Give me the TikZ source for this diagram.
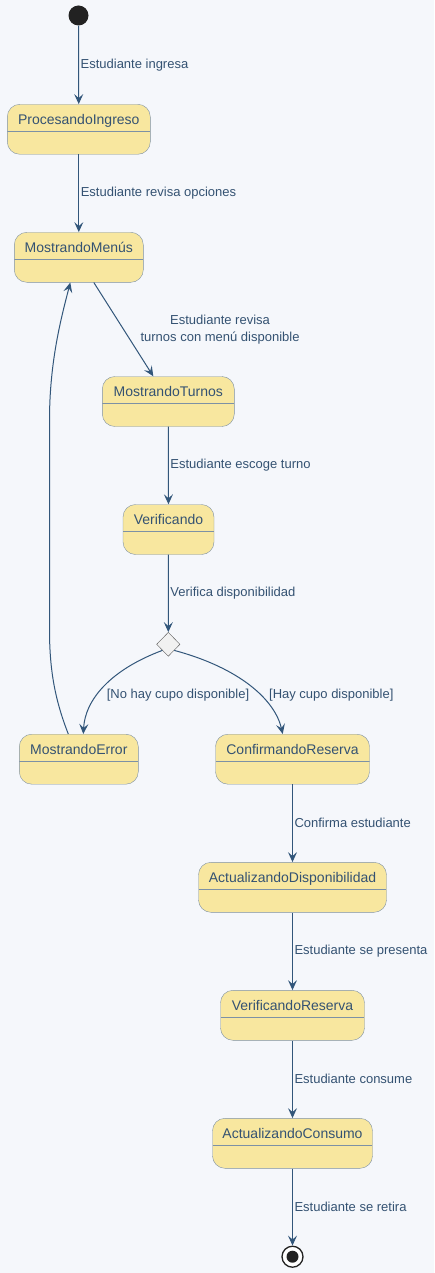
\documentclass[tikz,border=0pt]{standalone}
\usepackage{fontspec}
\setmainfont{Liberation Sans}
\usepackage{tikz}
\usetikzlibrary{positioning,arrows.meta,shapes.geometric}

\definecolor{fondo}{RGB}{245,247,251}
\definecolor{relleno}{RGB}{248,231,159}
\definecolor{borde}{RGB}{125,145,165}
\definecolor{flecha}{RGB}{50,86,122}
\definecolor{texto}{RGB}{52,82,114}
\definecolor{negro}{RGB}{34,34,34}
\definecolor{rombo}{RGB}{241,241,241}
\definecolor{borderombo}{RGB}{90,90,90}

\begin{document}
\begin{tikzpicture}[x=1pt, y=-1pt,
	estado/.style={draw=borde, fill=relleno, rounded corners=12.5pt, inner xsep=0pt, inner ysep=0pt,
		text height=20pt, text depth=30pt, text=texto, font=\fontsize{14}{16}\selectfont,
		path picture={\draw[borde] ([yshift=-27pt]path picture bounding box.north west) -- ([yshift=-27pt]path picture bounding box.north east);}},
	etiqueta/.style={text=texto, inner sep=1.5pt, font=\fontsize{13}{16.6}\selectfont},
	trans/.style={draw=flecha, line width=1pt, -{Stealth[length=10pt, width=9pt, inset=4pt]}}]
	\useasboundingbox (0,0) rectangle (434,1273);
	\fill[fondo] (0,0) rectangle (434,1273);

	\node[circle, fill=negro, minimum size=20pt, inner sep=0pt] (inicio) at (78.5,15.5) {};
	\node[estado, minimum width=143pt] (ingreso) at (78.8,129.3) {ProcesandoIngreso};
	\node[estado, minimum width=129pt] (menus) at (78.8,257.3) {MostrandoMenús};
	\node[estado, minimum width=132pt] (turnos) at (168.3,401.5) {MostrandoTurnos};
	\node[estado, minimum width=91pt] (verificando) at (168.5,529.5) {Verificando};
	\node[diamond, draw=borderombo, fill=rombo, minimum width=23.4pt, minimum height=24pt, inner sep=0pt] (decision) at (168.3,644.3) {};
	\node[estado, minimum width=119pt] (error) at (78.8,759.2) {MostrandoError};
	\node[estado, minimum width=154pt] (confirmando) at (292.5,759.2) {ConfirmandoReserva};
	\node[estado, minimum width=188pt] (disponibilidad) at (292.5,887.3) {ActualizandoDisponibilidad};
	\node[estado, minimum width=144pt] (reserva) at (292.5,1015.3) {VerificandoReserva};
	\node[estado, minimum width=160pt] (consumo) at (292.5,1143.3) {ActualizandoConsumo};
	\node[circle, draw=negro, line width=1.3pt, fill=white, minimum size=21pt, inner sep=0pt,
		path picture={\fill[negro] (path picture bounding box.center) circle (6pt);}] (fin) at (292.5,1256.7) {};

	\draw[trans] (inicio) -- node[etiqueta, right] {Estudiante ingresa} (ingreso);
	\draw[trans] (ingreso) -- node[etiqueta, right] {Estudiante revisa opciones} (menus);
	\draw[trans] ([xshift=15pt]menus.south) -- node[etiqueta, align=center, right=15pt] {Estudiante revisa\\turnos con menú disponible} ([xshift=-15pt]turnos.north);
	\draw[trans] (turnos) -- node[etiqueta, right] {Estudiante escoge turno} (verificando);
	\draw[trans] (verificando) -- node[etiqueta, right] {Verifica disponibilidad} (decision);
	\draw[trans] (decision.south west) .. controls (110,670) and (85,700) .. node[etiqueta, pos=0.6, anchor=west, xshift=8pt] {[No hay cupo disponible]} ([xshift=4.5pt]error.north);
	\draw[trans] (decision.south east) .. controls (240,668) and (275,700) .. node[etiqueta, pos=0.6, anchor=west, xshift=7pt] {[Hay cupo disponible]} ([xshift=-9.8pt]confirmando.north);
	\draw[trans] ([xshift=-10.5pt]error.north) .. controls (55,700) and (49.5,670) .. (49.5,630)
		-- (49.5,420) .. controls (49.5,360) and (62,315) .. ([xshift=-8.5pt]menus.south);
	\draw[trans] (confirmando) -- node[etiqueta, right] {Confirma estudiante} (disponibilidad);
	\draw[trans] (disponibilidad) -- node[etiqueta, right] {Estudiante se presenta} (reserva);
	\draw[trans] (reserva) -- node[etiqueta, right] {Estudiante consume} (consumo);
	\draw[trans] (consumo) -- node[etiqueta, right] {Estudiante se retira} (fin);
\end{tikzpicture}
\end{document}
